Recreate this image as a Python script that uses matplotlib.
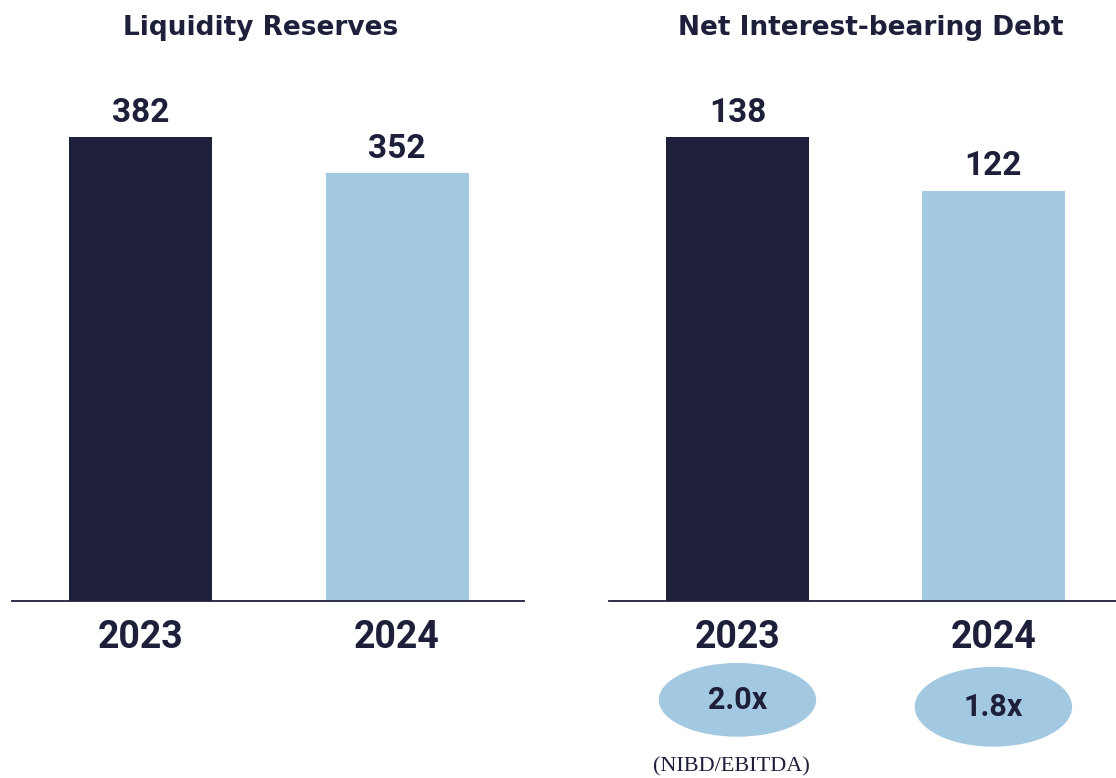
import numpy as np
import matplotlib.pyplot as plt
from matplotlib.patches import Ellipse
from matplotlib.transforms import blended_transform_factory

# data
years = ["2023", "2024"]
liquidity = [382, 352]
nibd = [138, 122]
leverage = ["2.0x", "1.8x"]

DARK = "#1e1f3a"
LIGHT = "#a3c8e1"
bar_colors = [DARK, LIGHT]

plt.rcParams['font.family'] = ['Roboto', 'DejaVu Sans']

fig = plt.figure(figsize=(11.16, 7.78), dpi=100)
ax1 = fig.add_axes([12 / 1116, 177 / 778, 512 / 1116, 464 / 778])
ax2 = fig.add_axes([609 / 1116, 177 / 778, 507 / 1116, 464 / 778])


def draw_panel(ax, values, title, title_x, xlim):
    x = np.arange(len(values))
    bars = ax.bar(x, values, width=0.5575, color=bar_colors)
    ax.set_xlim(*xlim)
    ax.set_ylim(0, max(values))
    ax.bar_label(bars, labels=[str(v) for v in values], padding=6,
                 fontsize=24, fontweight='bold', color=DARK)
    ax.axhline(0, color=DARK, lw=1.3, clip_on=False)
    for s in ax.spines.values():
        s.set_visible(False)
    ax.set_yticks([])
    ax.set_xticks(x)
    ax.set_xticklabels(years, fontsize=27, fontweight='bold', color=DARK)
    ax.tick_params(axis='x', length=0, pad=13)
    ax.text(title_x, 1.235, title, transform=ax.transAxes, ha='center', va='center',
            fontsize=19, fontweight='bold', color=DARK, family=['DejaVu Sans'])
    return x


draw_panel(ax1, liquidity, "Liquidity Reserves", 0.486, (-0.501, 1.495))
x2 = draw_panel(ax2, nibd, "Net Interest-bearing Debt", 0.517, (-0.502, 1.479))

# leverage ellipses under the right panel
trans = blended_transform_factory(ax2.transData, ax2.transAxes)
ell_y = [-0.213, -0.228]
ell_h = [0.159, 0.172]
for xi, lab, yy, hh in zip(x2, leverage, ell_y, ell_h):
    e = Ellipse((xi, yy), 0.615, hh, transform=trans, facecolor=LIGHT,
                edgecolor='none', clip_on=False)
    ax2.add_patch(e)
    ax2.text(xi, yy, lab, transform=trans, ha='center', va='center',
             fontsize=22, fontweight='bold', color=DARK)

ax2.text(x2[0] - 0.025, -0.358, "(NIBD/EBITDA)", transform=trans, ha='center', va='center',
         fontsize=16, color=DARK, family=['Liberation Serif', 'DejaVu Serif'])

fig.savefig("out.png", dpi=100)
